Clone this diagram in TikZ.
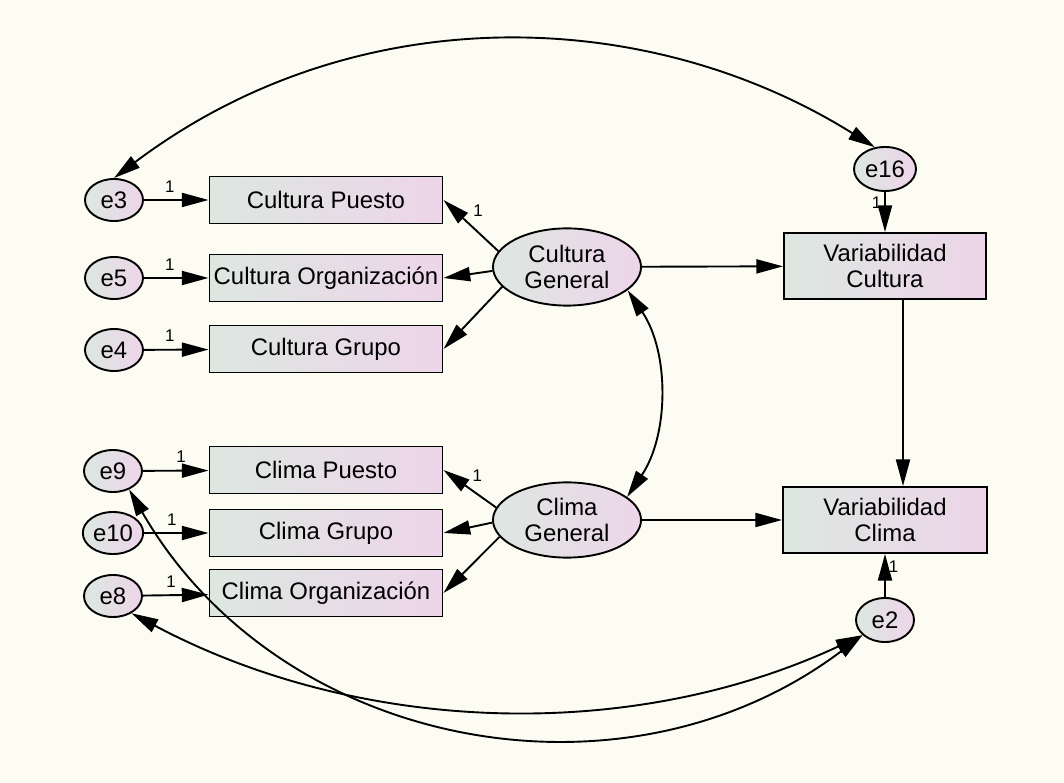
\documentclass[tikz,border=0pt]{standalone}
\usepackage{fontspec}
\setmainfont{Liberation Sans}
\usetikzlibrary{arrows.meta}
\usetikzlibrary{positioning}
\usetikzlibrary{shapes.geometric}

\definecolor{fondo}{RGB}{252,252,243}
\definecolor{grisv}{RGB}{221,231,225}
\definecolor{rosa}{RGB}{237,213,233}

\begin{document}
\begin{tikzpicture}
				[x=0.025cm,y=0.025cm,line width=1.35pt,>={Triangle[length=19pt,width=10pt]},
				font=\fontsize{17}{18}\selectfont,
				var/.style={draw,line width=1.35pt,left color=grisv,right color=rosa,align=center,inner sep=1pt},
				err/.style={var,ellipse,minimum width=1.45cm,minimum height=1.05cm},
				lat/.style={var,ellipse,minimum width=3.7cm,minimum height=1.93cm},
				obs/.style={var,rectangle,minimum width=5.825cm,minimum height=1.175cm},
				dep/.style={var,rectangle,minimum width=5.05cm,minimum height=1.65cm},
				one/.style={font=\fontsize{12}{13}\selectfont,inner sep=1pt}]
				\useasboundingbox (0,0) rectangle (1064,782);
				\fill[fondo] (0,0) rectangle (1064,782);
				
				% errores
				\node[err] (e3) at (114,582) {e3};
				\node[err] (e5) at (114,504) {e5};
				\node[err] (e4) at (114,432) {e4};
				\node[err] (e9) at (113,311) {e9};
				\node[err] (e10) at (113,249) {e10};
				\node[err] (e8) at (113,186) {e8};
				\node[err,minimum width=1.55cm,minimum height=1.1cm] (e16) at (885,613) {e16};
				\node[err,minimum height=1.1cm] (e2) at (885,162) {e2};
				
				% observadas
				\node[obs] (cp) at (326,582) {Cultura Puesto};
				\node[obs] (co) at (326,504) {Cultura Organización};
				\node[obs] (cgr) at (326,433) {Cultura Grupo};
				\node[obs] (clp) at (326,312) {Clima Puesto};
				\node[obs] (clg) at (326,249) {Clima Grupo};
				\node[obs] (clo) at (326,189) {Clima Organización};
				
				% latentes
				\node[lat] (culg) at (567,515) {Cultura\\General};
				\node[lat,minimum height=1.88cm] (clig) at (567,262) {Clima\\General};
				
				\node[dep] (vc) at (885,516) {Variabilidad\\Cultura};
				\node[dep,minimum width=5.1cm] (vcl) at (885,262) {Variabilidad\\Clima};
				
				\foreach \from/\to/\p in 
					{e3/cp/.4, e5/co/.4, e4/cgr/.4, e9/clp/.58, e10/clg/.43, e8/clo/.43}
				\draw[->] (\from) -- node[one,pos=\p,above=4pt] {1} (\to);
				
				\draw[->] (culg.167) -- node[one,pos=.6,above right=1pt and 4pt] {1} (cp.east);
				\draw[->] (clig.170) -- node[one,pos=.6,above right=1pt and 4pt] {1} (clp.east);
				\foreach \from/\to in 
					{culg.183/co.east, culg.197/cgr.east, clig.182/clg.east, clig.194/clo.east, culg/vc, clig/vcl}
				\draw[->] (\from) -- (\to);
				
				\draw[->] (e16) -- node[one,pos=.26,left=1pt] {1} (vc);
				\draw[->] (e2) -- node[one,pos=.7,right=1pt] {1} (vcl);
				\draw[->] ([xshift=0.45cm]vc.south) -- ([xshift=0.45cm]vcl.north);
				
				% covarianzas
				\draw[<->] (e3.north) .. controls +(37:300) and +(148:270) .. (e16.115);
				\draw[<->] (culg.-21) .. controls +(-56:75) and +(56:75) .. (clig.21);
				\draw[<->] (e8.-43) .. controls +(-28:257) and +(205:257) .. (e2.214);
				\draw[<->] (e9.-49) .. controls +(-60:300) and +(217:300) .. (e2.214);
			\end{tikzpicture}
\end{document}
